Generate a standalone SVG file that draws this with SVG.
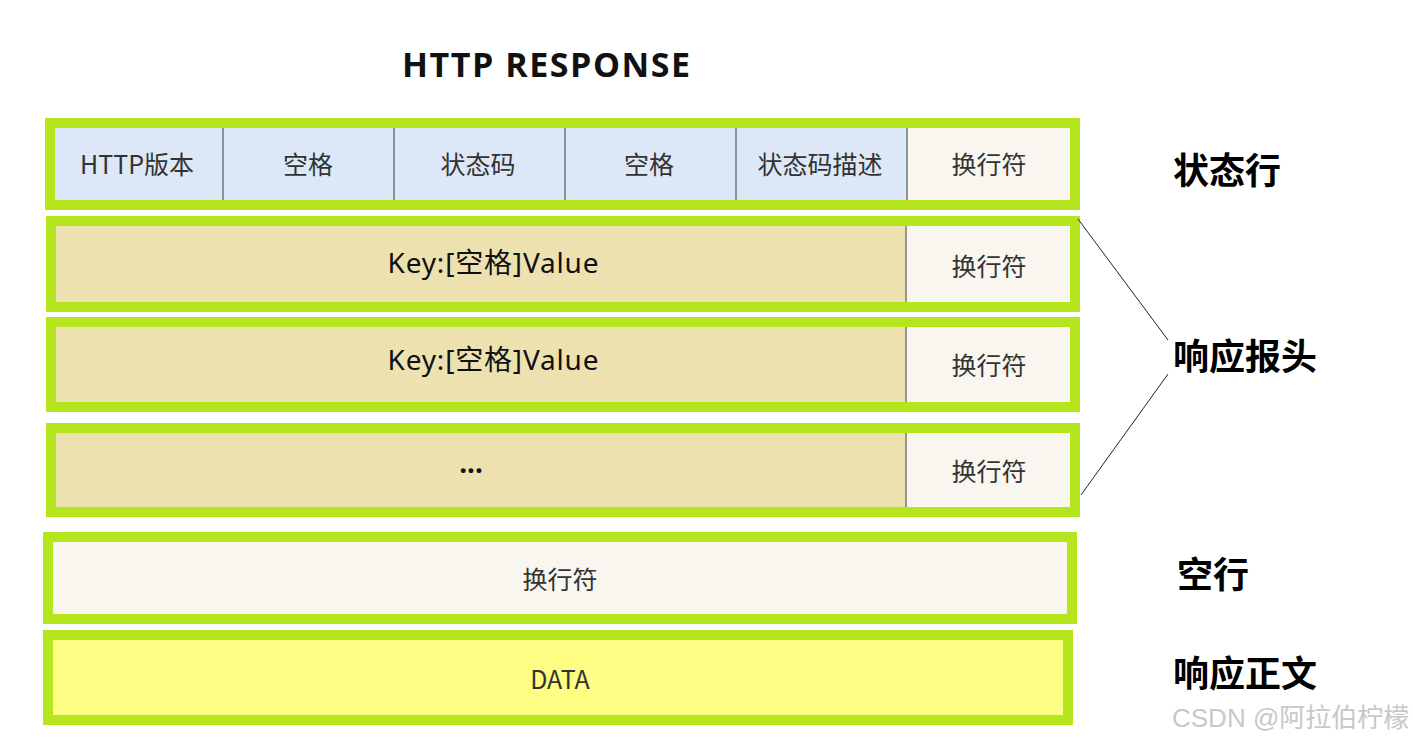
<svg xmlns="http://www.w3.org/2000/svg" width="1413" height="744" viewBox="0 0 1413 744">
<style>
.frame{fill:none;stroke:#b5e61d;stroke-width:10}
.blue{fill:#dce8f8}
.nl{fill:#f8f6ef}
.tan{fill:#ede1b0}
.data{fill:#fefe84}
.div{stroke:#555;stroke-width:1.2}
.t{font-family:"Noto Sans CJK SC","Noto Sans",sans-serif;font-size:25px;fill:#333;text-anchor:middle;dominant-baseline:central}
.k{font-family:"Noto Sans","Noto Sans CJK SC",sans-serif;font-size:28px;fill:#111;text-anchor:middle;dominant-baseline:central}
.side{font-family:"Noto Sans CJK SC",sans-serif;font-size:36px;font-weight:bold;fill:#000}
.title{font-family:"Open Sans","Noto Sans",sans-serif;font-size:34px;font-weight:bold;fill:#111}
.wm{font-family:"Liberation Sans","Noto Sans CJK SC",sans-serif;font-size:26px;fill:#c8c8c8}
.ln{stroke:#222;stroke-width:1;fill:none}
</style>
<rect width="1413" height="744" fill="#fff"/>
<text class="title" x="402" y="77" textLength="288">HTTP RESPONSE</text>

<g id="status-line">
<rect class="blue" x="50" y="123" width="857" height="82"/>
<rect class="nl" x="907" y="123" width="168" height="82"/>
<line class="div" x1="223" y1="128" x2="223" y2="200"/>
<line class="div" x1="394" y1="128" x2="394" y2="200"/>
<line class="div" x1="565" y1="128" x2="565" y2="200"/>
<line class="div" x1="736" y1="128" x2="736" y2="200"/>
<line class="div" x1="907" y1="128" x2="907" y2="200"/>
<rect class="frame" x="50" y="123" width="1025" height="82"/>
<text class="t" x="137" y="163">HTTP版本</text>
<text class="t" x="308" y="163">空格</text>
<text class="t" x="478" y="163">状态码</text>
<text class="t" x="649" y="163">空格</text>
<text class="t" x="820" y="163">状态码描述</text>
<text class="t" x="989" y="163">换行符</text>
</g>

<g id="header1">
<rect class="tan" x="51" y="221" width="854" height="86"/>
<rect class="nl" x="905" y="221" width="170" height="86"/>
<line class="div" x1="906" y1="225" x2="906" y2="303"/>
<rect class="frame" x="51" y="221" width="1024" height="86"/>
<text class="k" x="493" y="262" textLength="211">Key:[空格]Value</text>
<text class="t" x="989" y="265">换行符</text>
</g>

<g id="header2">
<rect class="tan" x="51" y="322" width="854" height="85"/>
<rect class="nl" x="905" y="322" width="170" height="85"/>
<line class="div" x1="906" y1="327" x2="906" y2="403"/>
<rect class="frame" x="51" y="322" width="1024" height="85"/>
<text class="k" x="493" y="359" textLength="211">Key:[空格]Value</text>
<text class="t" x="989" y="364">换行符</text>
</g>

<g id="header3">
<rect class="tan" x="51" y="428" width="854" height="84"/>
<rect class="nl" x="905" y="428" width="170" height="84"/>
<line class="div" x1="906" y1="433" x2="906" y2="507"/>
<rect class="frame" x="51" y="428" width="1024" height="84"/>
<text class="k" x="471" y="462" font-weight="bold">...</text>
<text class="t" x="989" y="470">换行符</text>
</g>

<g id="empty-line">
<rect class="nl" x="48" y="537" width="1024" height="82"/>
<rect class="frame" x="48" y="537" width="1024" height="82"/>
<text class="t" x="560" y="578">换行符</text>
</g>

<g id="body">
<rect class="data" x="48" y="635" width="1020" height="85"/>
<rect class="frame" x="48" y="635" width="1020" height="85"/>
<text class="t" x="560" y="678">DATA</text>
</g>

<g id="connectors">
<line class="ln" x1="1078" y1="219" x2="1168" y2="340"/>
<line class="ln" x1="1168" y1="374" x2="1081" y2="495"/>
</g>

<g id="labels">
<text class="side" x="1173" y="184">状态行</text>
<text class="side" x="1173" y="370">响应报头</text>
<text class="side" x="1177" y="588">空行</text>
<text class="side" x="1173" y="687">响应正文</text>
</g>
<text class="wm" x="1172" y="727">CSDN @阿拉伯柠檬</text>
</svg>
